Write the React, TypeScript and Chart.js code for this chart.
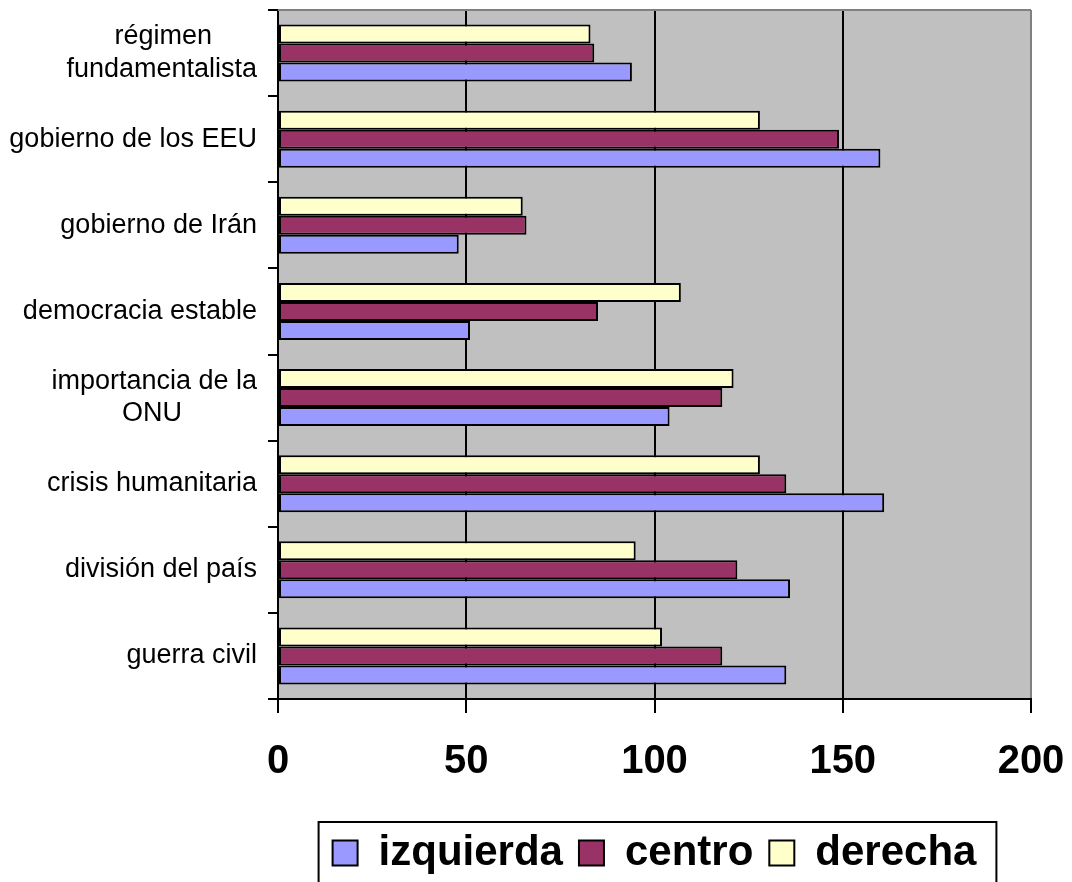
import React, { useEffect, useRef } from "react";
import { Chart, registerables } from "chart.js";

Chart.register(...registerables);

const categories: (string | string[])[] = [
  ["régimen      ", "fundamentalista"],
  "gobierno de los EEU",
  "gobierno de Irán",
  "democracia estable",
  ["importancia de la", "ONU          "],
  "crisis humanitaria",
  "división del país",
  "guerra civil",
];

const izquierda = [94, 160, 48, 51, 104, 161, 136, 135];
const centro = [84, 149, 66, 85, 118, 135, 122, 118];
const derecha = [83, 128, 65, 107, 121, 128, 95, 102];

const xTicks = [0, 50, 100, 150, 200];

const FONT = '"Liberation Sans", Arial, sans-serif';

const zeroPad = (scale: any) => {
  scale.paddingTop = 0;
  scale.paddingBottom = 0;
  scale.paddingLeft = 0;
  scale.paddingRight = 0;
};

const decorPlugin = {
  id: "decor",
  beforeDraw(chart: any) {
    const { ctx, chartArea } = chart;
    ctx.save();
    ctx.fillStyle = "#ffffff";
    ctx.fillRect(0, 0, chart.width, chart.height);
    ctx.fillStyle = "#c0c0c0";
    ctx.fillRect(chartArea.left, chartArea.top, chartArea.right - chartArea.left, chartArea.bottom - chartArea.top);
    ctx.restore();
  },
  afterDraw(chart: any) {
    const { ctx, chartArea } = chart;
    ctx.save();
    ctx.strokeStyle = "#808080";
    ctx.lineWidth = 2;
    ctx.beginPath();
    ctx.moveTo(chartArea.left, chartArea.top);
    ctx.lineTo(chartArea.right, chartArea.top);
    ctx.stroke();
    const legend = chart.legend;
    if (legend && legend.legendHitBoxes && legend.legendHitBoxes.length) {
      const boxes = legend.legendHitBoxes;
      let l = Infinity, r = -Infinity, cy = 0;
      boxes.forEach((b: any) => {
        l = Math.min(l, b.left);
        r = Math.max(r, b.left + b.width);
        cy = b.top + b.height / 2;
      });
      ctx.strokeStyle = "#000000";
      ctx.lineWidth = 2;
      ctx.strokeRect(l - 14, cy - 31, r - l + 34, 61);
    }
    ctx.restore();
  },
};

export default function App() {
  const ref = useRef<HTMLCanvasElement>(null);
  useEffect(() => {
    if (!ref.current) return;
    const chart = new Chart(ref.current, {
      type: "bar",
      data: {
        labels: categories,
        datasets: [
          { label: "derecha", data: derecha, backgroundColor: "#FFFFCC", borderColor: "#000000", borderWidth: 2, borderSkipped: false },
          { label: "centro", data: centro, backgroundColor: "#993366", borderColor: "#000000", borderWidth: 2, borderSkipped: false },
          { label: "izquierda", data: izquierda, backgroundColor: "#9999FF", borderColor: "#000000", borderWidth: 2, borderSkipped: false },
        ],
      },
      options: {
        indexAxis: "y",
        responsive: false,
        animation: false,
        events: [],
        layout: { padding: { left: 0, right: 41, top: 10, bottom: -2 } },
        datasets: { bar: { categoryPercentage: 0.663, barPercentage: 1 } },
        scales: {
          x: {
            min: 0,
            max: 200,
            afterBuildTicks: (scale: any) => {
              scale.ticks = xTicks.map((v) => ({ value: v }));
            },
            afterFit: (scale: any) => {
              scale.height = 117;
              zeroPad(scale);
            },
            ticks: {
              color: "#000000",
              font: { family: FONT, size: 40, weight: "bold" },
              padding: 25,
              maxRotation: 0,
            },
            grid: {
              color: (ctx: any) => (ctx.tick && ctx.tick.value === 200 ? "#808080" : "#000000"),
              tickColor: "#000000",
              lineWidth: 2,
              tickLength: 14,
            },
            border: { color: "#000000", width: 2 },
          },
          y: {
            afterFit: (scale: any) => {
              scale.width = 278;
              zeroPad(scale);
            },
            ticks: {
              color: "#000000",
              font: { family: FONT, size: 27, lineHeight: 1.2 },
              padding: 11,
              autoSkip: false,
            },
            grid: {
              drawOnChartArea: false,
              color: "#000000",
              lineWidth: 2,
              tickLength: 10,
              offset: true,
            },
            border: { color: "#000000", width: 2 },
          },
        },
        plugins: {
          legend: {
            position: "bottom",
            fullSize: false,
            reverse: true,
            labels: {
              color: "#000000",
              font: { family: FONT, size: 42, weight: "bold" },
              boxWidth: 25,
              boxHeight: 25,
              padding: 16,
            },
          },
          tooltip: { enabled: false },
        },
      },
      plugins: [decorPlugin],
    });
    return () => chart.destroy();
  }, []);
  return (
    <canvas
      ref={ref}
      width={1072}
      height={882}
      style={{ position: "absolute", left: 0, top: 0, display: "block" }}
    />
  );
}
